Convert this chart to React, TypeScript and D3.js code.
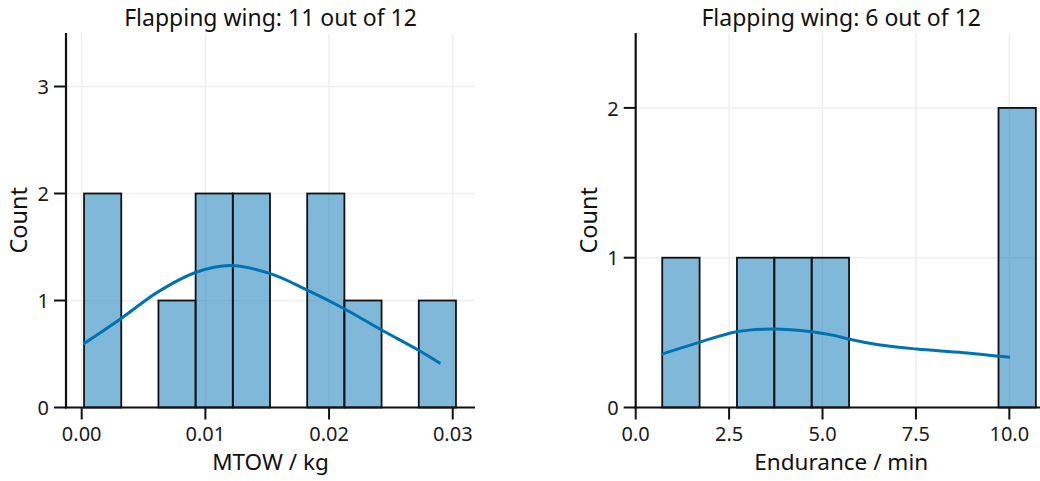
import React from "react";
import * as d3 from "d3";

// ---------- data ----------
const mtowBinStart = 0.00019;
const mtowBinWidth = 0.003007;
const mtowCounts = [2, 0, 1, 2, 2, 0, 2, 1, 0, 1];
const mtowKdeX = [0.00013, 0.0031, 0.0062, 0.0092, 0.012, 0.0152, 0.0182, 0.02115, 0.02425, 0.0272, 0.029];
const mtowKdeY = [0.593, 0.825, 1.083, 1.262, 1.327, 1.253, 1.099, 0.928, 0.724, 0.537, 0.412];
const mtowXTicks = [0, 0.01, 0.02, 0.03];
const mtowYTicks = [0, 1, 2, 3];

const endBinStart = 0.71;
const endBinWidth = 1.0;
const endCounts = [1, 0, 1, 1, 1, 0, 0, 0, 0, 2];
const endKdeX = [0.68, 1.68, 2.7, 3.68, 4.71, 5.34, 5.69, 6.54, 7.52, 8.77, 10.02];
const endKdeY = [0.355, 0.433, 0.506, 0.524, 0.506, 0.48, 0.457, 0.417, 0.39, 0.366, 0.335];
const endXTicks = [0, 2.5, 5, 7.5, 10];
const endYTicks = [0, 1, 2];

const titles = ["Flapping wing: 11 out of 12", "Flapping wing: 6 out of 12"];
const xLabels = ["MTOW / kg", "Endurance / min"];
const yLabel = "Count";

const FONT = "'Noto Sans', sans-serif";
const TXT = "#1a1a1a";
const LINE = "#0072B2";

type PanelProps = {
  left: number; right: number; top: number; bottom: number;
  xDomain: [number, number]; yDomain: [number, number];
  binStart: number; binWidth: number; counts: number[];
  kdeX: number[]; kdeY: number[];
  xTicks: number[]; yTicks: number[]; xFmt: (v: number) => string;
  title: string; xLabel: string; yLabelX: number;
};

function Panel(p: PanelProps) {
  const x = d3.scaleLinear().domain(p.xDomain).range([p.left, p.right]);
  const y = d3.scaleLinear().domain(p.yDomain).range([p.bottom, p.top]);
  const line = d3
    .line<number>()
    .x((_, i) => x(p.kdeX[i]))
    .y((d) => y(d))
    .curve(d3.curveCatmullRom.alpha(0.5));
  const cx = (p.left + p.right) / 2;
  const cy = (p.top + p.bottom) / 2;
  return (
    <g>
      {/* grid */}
      {p.xTicks.map((t) => (
        <line key={"gx" + t} x1={x(t)} x2={x(t)} y1={p.top} y2={p.bottom} stroke="#efefef" strokeWidth={1.5} />
      ))}
      {p.yTicks.map((t) => (
        <line key={"gy" + t} x1={p.left} x2={p.right} y1={y(t)} y2={y(t)} stroke="#efefef" strokeWidth={1.5} />
      ))}
      {/* bars */}
      {p.counts.map((c, i) =>
        c > 0 ? (
          <rect
            key={"b" + i}
            x={x(p.binStart + i * p.binWidth)}
            y={y(c)}
            width={x(p.binStart + (i + 1) * p.binWidth) - x(p.binStart + i * p.binWidth)}
            height={y(0) - y(c)}
            fill={LINE}
            fillOpacity={0.5}
            stroke="#111"
            strokeWidth={1.8}
          />
        ) : null
      )}
      {/* kde */}
      <path d={line(p.kdeY) || ""} fill="none" stroke={LINE} strokeWidth={3} />
      {/* spines */}
      <line x1={p.left} x2={p.left} y1={p.top} y2={p.bottom + 1} stroke="#111" strokeWidth={2.2} />
      <line x1={p.left - 1} x2={p.right} y1={p.bottom} y2={p.bottom} stroke="#111" strokeWidth={2.2} />
      {/* x ticks */}
      {p.xTicks.map((t) => (
        <g key={"xt" + t}>
          <line x1={x(t)} x2={x(t)} y1={p.bottom} y2={p.bottom + 12} stroke="#111" strokeWidth={2} />
          <text x={x(t)} y={p.bottom + 33} textAnchor="middle" fontFamily={FONT} fontSize={20} fill={TXT}>
            {p.xFmt(t)}
          </text>
        </g>
      ))}
      {/* y ticks */}
      {p.yTicks.map((t) => (
        <g key={"yt" + t}>
          <line x1={p.left - 12} x2={p.left} y1={y(t)} y2={y(t)} stroke="#111" strokeWidth={2} />
          <text x={p.left - 17} y={y(t)} dy="0.38em" textAnchor="end" fontFamily={FONT} fontSize={20} fill={TXT}>
            {t}
          </text>
        </g>
      ))}
      <text x={cx} y={25.5} textAnchor="middle" fontFamily={FONT} fontSize={23} fill="#111">
        {p.title}
      </text>
      <text x={cx} y={470} textAnchor="middle" fontFamily={FONT} fontSize={22.5} fill="#111">
        {p.xLabel}
      </text>
      <text
        transform={`translate(${p.yLabelX},${cy}) rotate(-90)`}
        textAnchor="middle"
        fontFamily={FONT}
        fontSize={23.5}
        fill="#111"
      >
        {yLabel}
      </text>
    </g>
  );
}

export default function App() {
  return (
    <svg
      width={1040}
      height={481}
      style={{ position: "absolute", left: 0, top: 0, background: "#fff" }}
    >
      <rect width={1040} height={481} fill="#fff" />
      <Panel
        left={66} right={475} top={33} bottom={407.5}
        xDomain={[-0.00127, 0.0318]} yDomain={[0, 3.5]}
        binStart={mtowBinStart} binWidth={mtowBinWidth} counts={mtowCounts}
        kdeX={mtowKdeX} kdeY={mtowKdeY}
        xTicks={mtowXTicks} yTicks={mtowYTicks}
        xFmt={(v) => v.toFixed(2)}
        title={titles[0]} xLabel={xLabels[0]} yLabelX={27}
      />
      <Panel
        left={635.7} right={1046.7} top={33} bottom={407.5}
        xDomain={[0, 11]} yDomain={[0, 2.5]}
        binStart={endBinStart} binWidth={endBinWidth} counts={endCounts}
        kdeX={endKdeX} kdeY={endKdeY}
        xTicks={endXTicks} yTicks={endYTicks}
        xFmt={(v) => v.toFixed(1)}
        title={titles[1]} xLabel={xLabels[1]} yLabelX={597}
      />
    </svg>
  );
}
